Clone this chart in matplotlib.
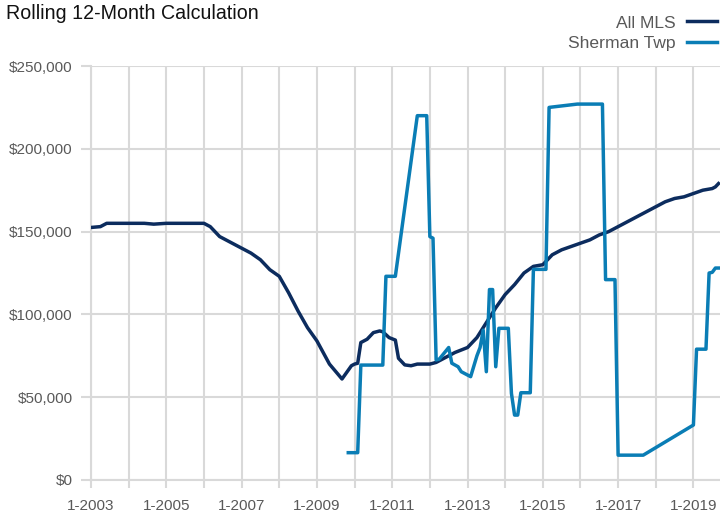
import matplotlib
matplotlib.use("Agg")
import matplotlib.pyplot as plt
from matplotlib.ticker import FuncFormatter

# monthly points (values in $1000)
mls_months = ["2003-01", "2003-04", "2003-06", "2004-06", "2004-09", "2005-01",
              "2006-01", "2006-03", "2006-06", "2006-09", "2007-01", "2007-04",
              "2007-07", "2007-10", "2008-01", "2008-04", "2008-07", "2008-10",
              "2009-01", "2009-05", "2009-09", "2009-12", "2010-01", "2010-02",
              "2010-03", "2010-05", "2010-07", "2010-09", "2010-10", "2010-12",
              "2011-02", "2011-03", "2011-05", "2011-07", "2011-09", "2012-01",
              "2012-03", "2012-06", "2012-09", "2013-01", "2013-04", "2013-07",
              "2013-10", "2014-01", "2014-04", "2014-07", "2014-10", "2015-01",
              "2015-04", "2015-07", "2015-10", "2016-01", "2016-04", "2016-07",
              "2016-10", "2017-01", "2017-04", "2017-07", "2017-10", "2018-01",
              "2018-04", "2018-07", "2018-10", "2019-01", "2019-04", "2019-07",
              "2019-08", "2019-09"]
mls_values = [152.5, 153, 155, 155, 154.5, 155,
              155, 153, 147, 144, 140, 137,
              133, 127, 123, 113, 102, 92,
              84, 70, 61, 69, 70, 70.5,
              83, 85, 89, 90, 89.5, 86,
              84.5, 73.5, 69.5, 69, 70, 70,
              71, 74, 77, 80, 86, 95,
              104, 112, 118, 125, 129, 130,
              136, 139, 141, 143, 145, 148,
              150, 153, 156, 159, 162, 165,
              168, 170, 171, 173, 175, 176,
              177, 179]

sherman_months = ["2009-11", "2010-02", "2010-03", "2010-10", "2010-11", "2011-02",
                  "2011-09", "2011-12", "2012-01", "2012-02", "2012-03", "2012-04",
                  "2012-07", "2012-08", "2012-10", "2012-11", "2013-01", "2013-02",
                  "2013-04", "2013-05", "2013-06", "2013-07", "2013-08", "2013-09",
                  "2013-10", "2013-11", "2014-02", "2014-03", "2014-04", "2014-05",
                  "2014-06", "2014-09", "2014-10", "2015-02", "2015-03", "2015-12",
                  "2016-08", "2016-09", "2016-12", "2017-01", "2017-09", "2019-01",
                  "2019-02", "2019-05", "2019-06", "2019-07", "2019-08", "2019-09"]
sherman_values = [16.5, 16.5, 69.4, 69.4, 123, 123,
                  220, 220, 147, 146, 72.5, 73,
                  80, 70.5, 68.4, 65.4, 63.4, 62.4,
                  75, 80, 90.5, 65.4, 115, 115,
                  68.4, 91.6, 91.6, 52.3, 39.2, 39.2,
                  52.7, 52.7, 127.2, 127.2, 225, 227,
                  227, 121, 121, 15, 15, 33.2,
                  79, 79, 125, 125.4, 128, 128]

y_ticks = [0, 50000, 100000, 150000, 200000, 250000]
label_years = list(range(2003, 2020, 2))


def to_year(month):
    y, m = month.split("-")
    return int(y) + (int(m) - 1) / 12.0


mls_x = [to_year(m) for m in mls_months]
mls_y = [v * 1000 for v in mls_values]
sh_x = [to_year(m) for m in sherman_months]
sh_y = [v * 1000 for v in sherman_values]

grid_c = "#d9d9d9"
txt_c = "#595959"
font = ["Liberation Sans", "DejaVu Sans"]

fig = plt.figure(figsize=(7.2, 5.15), dpi=100)
ax = fig.add_axes([91 / 720, 35 / 515, 629 / 720, 414 / 515])

ax.plot(mls_x, mls_y, color="#0c2c5e", lw=2.5, label="All MLS", solid_joinstyle="round", zorder=3)
ax.plot(sh_x, sh_y, color="#0a7db5", lw=2.5, label="Sherman Twp", solid_joinstyle="round", zorder=4)

ax.set_xlim(2003, 2019.706)
ax.set_ylim(0, 250000)
ax.set_yticks(y_ticks)
ax.yaxis.set_major_formatter(FuncFormatter(lambda v, p: "${:,.0f}".format(v)))
ax.set_xticks(range(2003, 2020))
ax.set_xticklabels(["1-%d" % y if y in label_years else "" for y in range(2003, 2020)])

ax.grid(True, color=grid_c, lw=1.5)
ax.set_axisbelow(True)
for s in ["top", "right"]:
    ax.spines[s].set_visible(False)
for s in ["left", "bottom"]:
    ax.spines[s].set_color(grid_c)
    ax.spines[s].set_linewidth(1.5)
ax.tick_params(axis="both", colors=grid_c, width=1.5, labelcolor=txt_c, labelsize=11)
ax.tick_params(axis="y", length=7, pad=6.3)
ax.tick_params(axis="x", length=6, pad=8)
for lab in ax.get_xticklabels() + ax.get_yticklabels():
    lab.set_family(font)

fig.text(0.009, 0.992, "Rolling 12-Month Calculation", ha="left", va="top",
         fontsize=14.1, color="#111111", family=font)

fig.legend(loc="upper right", bbox_to_anchor=(1.0, 0.977), frameon=False,
           markerfirst=False, handlelength=1.7, handletextpad=0.62,
           labelspacing=0.3, borderpad=0.1, borderaxespad=0.1,
           prop={"family": font, "size": 12.6},
           labelcolor=txt_c)

fig.savefig("out.png", dpi=100)
